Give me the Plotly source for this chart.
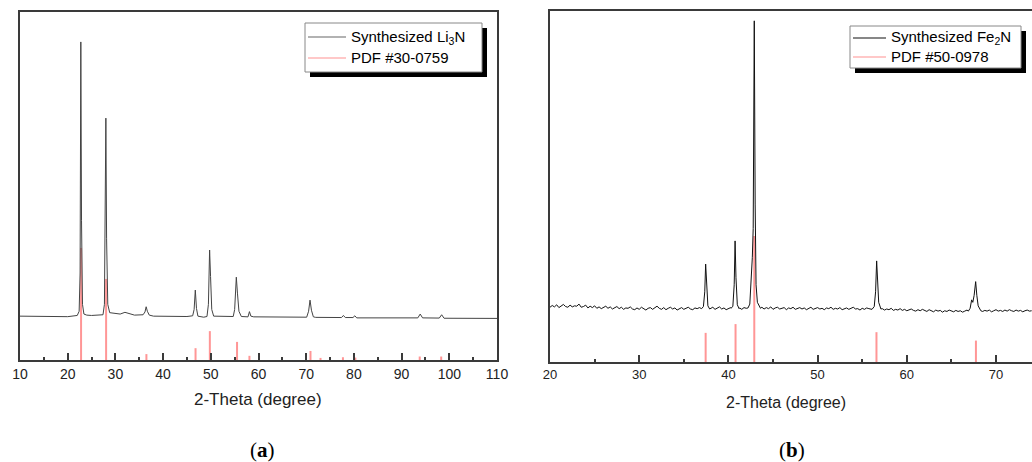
import numpy as np
import plotly.graph_objects as go

# ---- panel (a): Li3N pattern (arb. units, 0-100) ----
li3n_x = [10.0, 15.0, 20.0, 22.0, 22.4, 22.6, 22.75, 22.9, 23.1, 23.4, 24.0, 25.0, 27.0,
          27.4, 27.7, 27.9, 28.0, 28.15, 28.4, 28.8, 30.0, 31.0, 32.0, 34.0,
          35.8, 36.2, 36.45, 36.7, 37.1, 38.0, 45.0, 46.2, 46.5, 46.75, 47.0, 47.3, 48.5,
          49.2, 49.5, 49.75, 49.95, 50.2, 50.6, 53.0, 54.7, 55.0, 55.35, 55.6, 55.9, 56.4,
          57.8, 58.1, 58.4, 59.0, 65.0, 70.1, 70.5, 70.8, 71.1, 71.5, 72.0,
          77.4, 77.8, 78.2, 79.8, 80.2, 80.6, 85.0, 93.4, 93.9, 94.4, 97.9, 98.4, 98.9, 110.0]
li3n_y = [12.6, 12.6, 12.45, 12.8, 14.0, 25.0, 91.4, 40.0, 16.0, 13.2, 12.9, 12.8, 12.9,
          13.0, 16.0, 40.0, 69.5, 35.0, 16.0, 13.6, 13.4, 13.2, 13.7, 12.9,
          13.0, 13.8, 15.3, 14.0, 12.9, 12.6, 12.5, 12.7, 14.5, 20.1, 14.8, 12.6, 12.3,
          12.5, 16.0, 31.6, 24.0, 14.5, 12.6, 12.45, 12.5, 14.5, 23.8, 19.0, 14.0, 12.5,
          12.4, 13.9, 12.6, 12.4, 12.3, 12.3, 14.0, 17.2, 14.3, 12.4, 12.25,
          12.2, 12.8, 12.2, 12.2, 12.7, 12.1, 12.1, 12.1, 13.2, 12.1, 12.05, 13.0, 12.0, 11.95]

pdf_30_0759_pos = [22.8, 28.05, 36.5, 46.8, 49.8, 55.5, 58.1, 70.9, 73.0, 77.7, 80.3, 93.8, 98.3]
pdf_30_0759_int = [32.2, 23.3, 1.7, 3.4, 8.3, 5.2, 1.2, 2.6, 0.6, 0.8, 0.7, 1.0, 1.0]

# ---- panel (b): Fe2N pattern ----
fe2n_base_start, fe2n_base_step = 20.0, 0.25
fe2n_base_y = [
    15.6, 16.1, 15.7, 16.3, 15.5, 15.9, 16.4, 15.8, 15.6, 16.2, 15.7, 16.0,
    15.9, 16.5, 15.6, 15.8, 16.2, 15.4, 15.9, 15.5, 16.0, 15.3, 15.7, 15.2,
    15.6, 15.9, 15.3, 15.7, 15.1, 15.5, 15.8, 15.2, 15.6, 15.0, 15.4, 15.3,
    15.7, 15.1, 14.9, 15.4, 15.0, 15.6, 15.2, 14.8, 15.3, 15.5, 15.0, 15.4,
    15.9, 15.3, 15.0, 15.5, 14.9, 15.3, 15.6, 15.1, 15.4, 14.8, 15.2, 15.5,
    15.0, 15.3, 15.6, 15.1, 14.9, 15.4, 15.2, 15.5, 15.1, 15.6, 15.3, 15.0,
    15.2, 15.6, 15.0, 15.3, 15.7, 15.1, 15.4, 14.9, 15.3, 15.5, 15.2, 15.6,
    15.1, 15.4, 15.0, 15.5, 15.3, 15.7, 15.2, 15.6, 15.4, 15.9, 15.3, 15.6,
    15.1, 15.5, 15.2, 15.7, 15.0, 15.4, 15.6, 15.1, 15.3, 15.5, 14.9, 15.4,
    15.2, 15.6, 15.0, 15.3, 15.5, 15.1, 15.4, 14.9, 15.3, 15.6, 15.0, 15.2,
    15.5, 15.1, 15.3, 14.9, 15.4, 15.2, 15.6, 15.0, 15.3, 15.1, 15.5, 14.9,
    15.2, 15.4, 15.0, 15.3, 15.6, 15.1, 15.2, 14.8, 15.3, 15.0, 15.4, 15.2,
    15.0, 15.3, 15.1, 15.4, 14.9, 15.2, 14.8, 15.1, 14.9, 15.3, 14.7, 15.0,
    14.8, 15.2, 14.7, 15.0, 14.6, 14.9, 15.1, 14.7, 14.5, 14.9, 14.6, 15.0,
    14.7, 14.4, 14.9, 14.6, 14.3, 14.8, 14.5, 14.7, 14.2, 14.6, 14.4, 14.8,
    14.5, 14.3, 14.7, 14.4, 14.6, 14.2, 14.5, 14.8, 14.4, 14.6, 14.3, 14.7,
    14.5, 14.9, 14.4, 14.7, 14.5, 14.8, 14.3, 14.6, 14.9, 14.5, 14.7, 14.4,
    14.8, 14.5, 14.9, 14.6, 14.4, 14.8, 14.5, 14.7, 14.3, 14.6, 14.8, 14.5,
    14.6]
fe2n_peaks_x = [
    [37.0, 37.2, 37.35, 37.45, 37.55, 37.7, 37.9],
    [40.3, 40.5, 40.65, 40.75, 40.85, 41.0, 41.2],
    [42.2, 42.4, 42.55, 42.68, 42.78, 42.9, 43.0, 43.1, 43.25, 43.45, 43.6],
    [56.1, 56.35, 56.5, 56.62, 56.72, 56.85, 57.1],
    [66.9, 67.1, 67.27, 67.4, 67.55, 67.72, 67.85, 68.0, 68.3],
]
fe2n_peaks_y = [
    [15.2, 15.8, 20.0, 27.9, 21.0, 16.0, 15.1],
    [15.3, 15.9, 22.0, 34.5, 24.0, 16.3, 15.2],
    [15.4, 16.5, 22.0, 29.7, 38.0, 97.2, 45.0, 22.0, 17.0, 15.8, 15.3],
    [15.0, 15.8, 20.0, 28.8, 22.0, 17.0, 15.1],
    [14.5, 15.3, 17.7, 17.0, 19.0, 22.9, 19.0, 16.0, 14.6],
]

pdf_50_0978_pos = [37.45, 40.8, 42.9, 56.6, 67.75]
pdf_50_0978_int = [8.3, 10.8, 35.9, 8.5, 6.1]

# merge Fe2N baseline with the peak regions
base_x = fe2n_base_start + fe2n_base_step * np.arange(len(fe2n_base_y))
base_y = np.array(fe2n_base_y)
keep = np.ones(len(base_x), dtype=bool)
for px in fe2n_peaks_x:
    keep &= ~((base_x >= px[0]) & (base_x <= px[-1]))
fe2n_x = np.concatenate([base_x[keep]] + [np.array(p) for p in fe2n_peaks_x])
fe2n_y = np.concatenate([base_y[keep]] + [np.array(p) for p in fe2n_peaks_y])
order = np.argsort(fe2n_x)
fe2n_x, fe2n_y = fe2n_x[order], fe2n_y[order]


def sticks(pos, inten):
    xs, ys = [], []
    for p, h in zip(pos, inten):
        xs += [p, p, None]
        ys += [0, h, None]
    return xs, ys


W, H = 1032, 462
RED = "rgba(255,80,80,0.6)"
AX = "#3a3a3a"
SANS = "Liberation Sans, Arial, sans-serif"

fig = go.Figure()
sx, sy = sticks(pdf_30_0759_pos, pdf_30_0759_int)
fig.add_trace(go.Scatter(x=sx, y=sy, mode="lines", line=dict(color=RED, width=2),
                         xaxis="x", yaxis="y", hoverinfo="skip"))
fig.add_trace(go.Scatter(x=li3n_x, y=li3n_y, mode="lines", line=dict(color="#444", width=1),
                         xaxis="x", yaxis="y"))
sx, sy = sticks(pdf_50_0978_pos, pdf_50_0978_int)
fig.add_trace(go.Scatter(x=sx, y=sy, mode="lines", line=dict(color=RED, width=2),
                         xaxis="x2", yaxis="y2", hoverinfo="skip"))
fig.add_trace(go.Scatter(x=fe2n_x, y=fe2n_y, mode="lines", line=dict(color="#111111", width=1),
                         xaxis="x2", yaxis="y2"))

common_x = dict(showgrid=False, zeroline=False, showline=True, linecolor=AX, linewidth=1.5,
                ticks="inside", ticklen=7, tickwidth=1.5, tickcolor=AX, automargin=False,
                dtick=10, minor=dict(ticks="inside", ticklen=3.5, tickwidth=1.5,
                                     tickcolor=AX, dtick=5, showgrid=False))
common_y = dict(showgrid=False, zeroline=False, showline=True, linecolor=AX, linewidth=1.5,
                ticks="", showticklabels=False, range=[0, 100], automargin=False)

fig.update_layout(
    width=W, height=H, margin=dict(l=0, r=0, t=0, b=0, autoexpand=False),
    paper_bgcolor="white", plot_bgcolor="white", showlegend=False,
    xaxis=dict(common_x, domain=[20 / W, 497 / W], range=[10, 110], anchor="y", mirror=True,
               tickfont=dict(family=SANS, size=14, color="#222")),
    yaxis=dict(common_y, domain=[(H - 360) / H, (H - 12) / H], anchor="x", mirror=True),
    xaxis2=dict(common_x, domain=[550 / W, 1.0], range=[20, 20 + (W - 550) / 8.92], anchor="y2",
                mirror=True, tickfont=dict(family=SANS, size=13, color="#222")),
    yaxis2=dict(common_y, domain=[(H - 362) / H, (H - 11) / H], anchor="x2"),
)

# axis titles
for px, py, fs in [(258, 399, 17), (786, 402, 16)]:
    fig.add_annotation(xref="paper", yref="paper", x=px / W, y=1 - py / H, showarrow=False,
                       xanchor="center", yanchor="middle", text="2-Theta (degree)",
                       font=dict(family=SANS, size=fs, color="#222"))


# legends with drop shadow, drawn in pixel positions
def legend(x0, y0, x1, y1, line_x1, rows, fsize):
    fig.add_shape(type="rect", xref="paper", yref="paper",
                  x0=(x0 + 5) / W, x1=(x1 + 5) / W, y0=1 - (y1 + 5) / H, y1=1 - (y0 + 5) / H,
                  fillcolor="black", line=dict(width=0))
    fig.add_shape(type="rect", xref="paper", yref="paper",
                  x0=x0 / W, x1=x1 / W, y0=1 - y1 / H, y1=1 - y0 / H,
                  fillcolor="white", line=dict(color="#888", width=1))
    for text, color, ry in rows:
        fig.add_shape(type="line", xref="paper", yref="paper",
                      x0=(x0 + 3) / W, x1=line_x1 / W, y0=1 - ry / H, y1=1 - ry / H,
                      line=dict(color=color, width=1.2))
        fig.add_annotation(xref="paper", yref="paper", x=(line_x1 + 3) / W, y=1 - ry / H,
                           xanchor="left", yanchor="middle", showarrow=False, text=text,
                           font=dict(family=SANS, size=fsize, color="black"))


legend(305, 23, 482, 72, 346,
       [("Synthesized Li<sub>3</sub>N", "#666", 37), ("PDF #30-0759", "rgba(255,100,100,0.7)", 58)], 15)
legend(850, 26, 1021, 68, 886,
       [("Synthesized Fe<sub>2</sub>N", "#111", 38), ("PDF #50-0978", "rgba(255,100,100,0.7)", 57)], 15)

for label, px in [("a", 262), ("b", 792)]:
    fig.add_annotation(xref="paper", yref="paper", x=px / W, y=1 - 450 / H, showarrow=False,
                       xanchor="center", yanchor="middle", text=f"(<b>{label}</b>)",
                       font=dict(family="Liberation Serif, DejaVu Serif, serif", size=21, color="black"))

# the page's default body margin would shift the figure by 8px
fig.write_html("out.html", config={"displayModeBar": False},
               post_script="document.body.style.margin='0';")
